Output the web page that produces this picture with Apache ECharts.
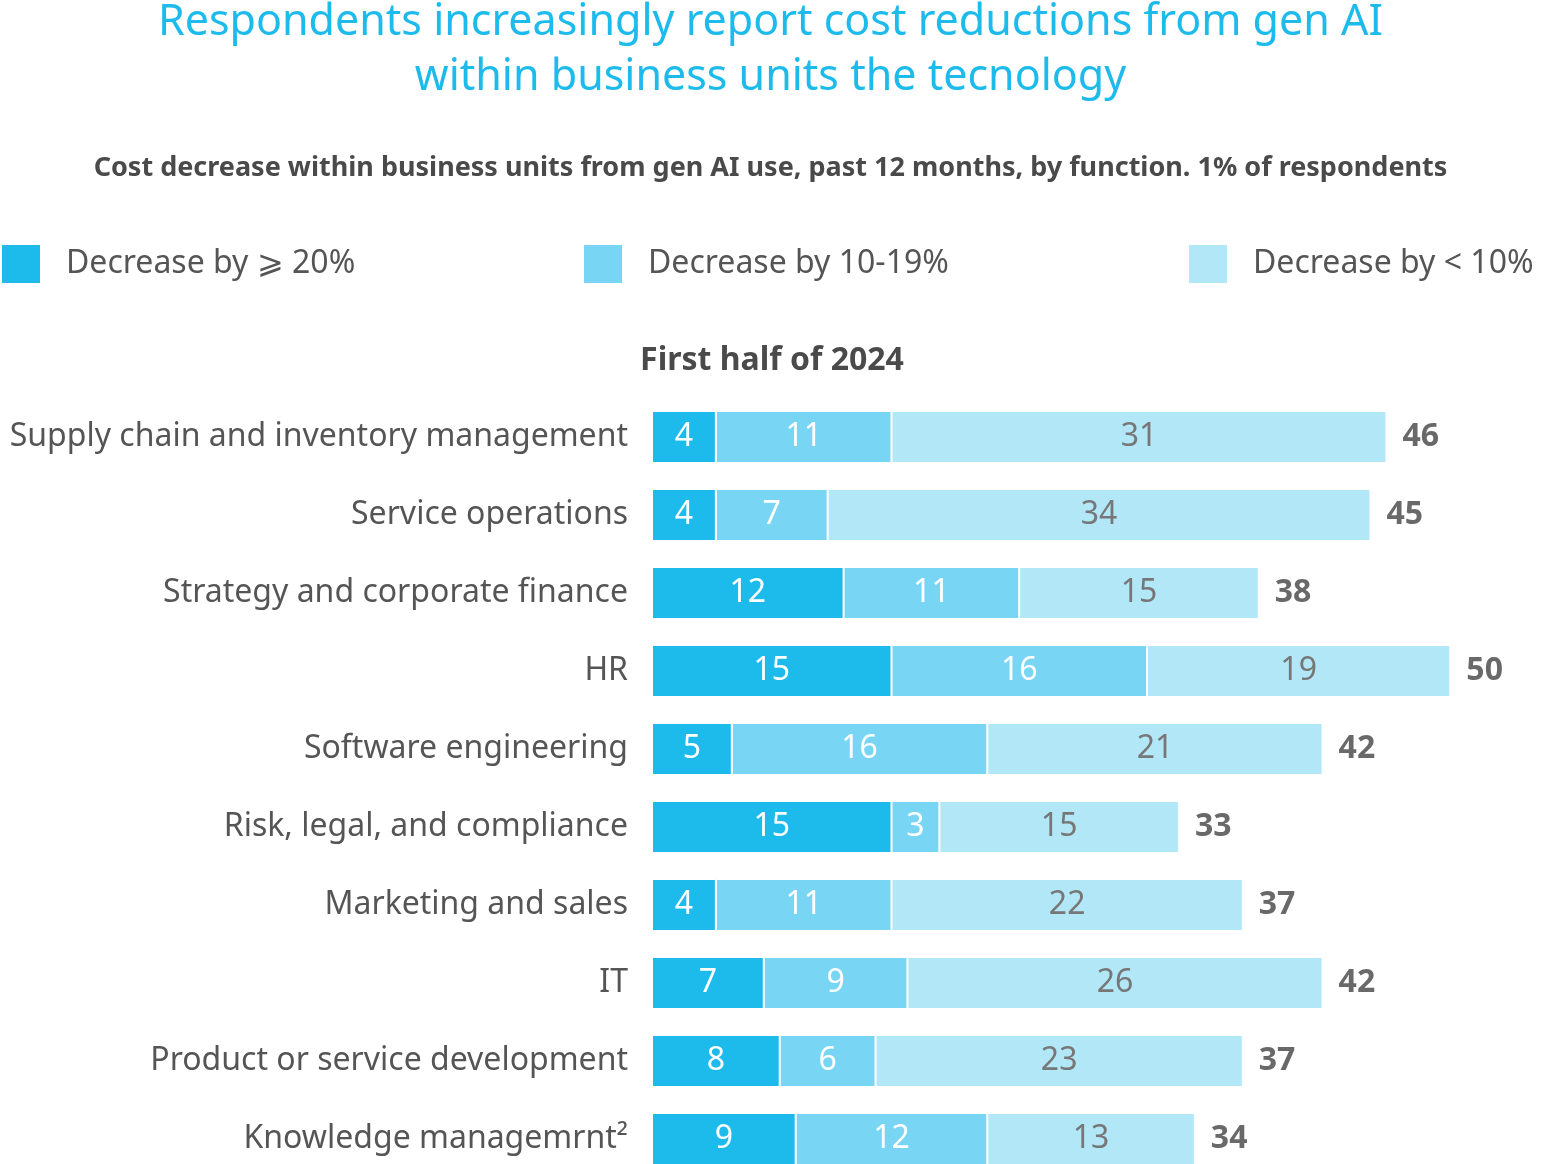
<!DOCTYPE html>
<html>
<head>
<meta charset="utf-8">
<script src="https://cdn.jsdelivr.net/npm/echarts@6/dist/echarts.min.js"></script>
<style>html,body{margin:0;padding:0;background:#fff}#c{width:1541px;height:1164px}</style>
</head>
<body>
<div id="c"></div>
<script>
const categories = ["Supply chain and inventory management","Service operations","Strategy and corporate finance","HR","Software engineering","Risk, legal, and compliance","Marketing and sales","IT","Product or service development","Knowledge managemrnt²"];
const dec20 = [4,4,12,15,5,15,4,7,8,9];
const dec10 = [11,7,11,16,16,3,11,9,6,12];
const decLow = [31,34,15,19,21,15,22,26,23,13];
const totals = [46,45,38,50,42,33,37,42,37,34];
const seriesNames = ["Decrease by ⩾ 20%","Decrease by 10-19%","Decrease by < 10%"];
const colors = ["#1dbbec","#78d5f4","#b2e7f8"];

const FONT = "Noto Sans";
const chart = echarts.init(document.getElementById('c'), null, {renderer:'canvas'});
function legendAt(i, left){
  return {
    data:[seriesNames[i]], left:left, top:243, padding:0, itemWidth:40, itemHeight:40, icon:'rect',
    textStyle:{fontFamily:FONT, fontSize:32, color:'#555', padding:[0,0,0,20]},
    selectedMode:false
  };
}
function barSeries(i, data, labelColor){
  return {
    name:seriesNames[i], type:'bar', stack:'s', data:data, barWidth:52,
    itemStyle:{color:colors[i], borderColor:'#fff', borderWidth:1},
    label:{show:true, position:'inside', color:labelColor, fontFamily:FONT, fontSize:32},
    emphasis:{disabled:true}
  };
}
chart.setOption({
  animation:false,
  title:[
    {text:"Respondents increasingly report cost reductions from gen AI\nwithin business units the tecnology", left:'center', top:-10,
     textStyle:{fontFamily:FONT, fontSize:43, fontWeight:'normal', color:'#1dbbec', lineHeight:55, align:'center'}},
    {text:"Cost decrease within business units from gen AI use, past 12 months, by function. 1% of respondents", left:'center', top:150,
     textStyle:{fontFamily:FONT, fontSize:27, fontWeight:'bold', color:'#4a4a4a'}},
    {text:"First half of 2024", left:767, top:340, textAlign:'center',
     textStyle:{fontFamily:FONT, fontSize:32, fontWeight:'bold', color:'#4a4a4a'}}
  ],
  legend:[legendAt(0,0), legendAt(1,582), legendAt(2,1187)],
  grid:{left:652, top:398, width:958, height:780, containLabel:false, outerBoundsMode:'none'},
  xAxis:{type:'value', min:0, max:60, show:false},
  yAxis:{type:'category', data:categories, inverse:true,
    axisLine:{show:false}, axisTick:{show:false},
    axisLabel:{margin:24, fontFamily:FONT, fontSize:32, color:'#555'}},
  series:[
    barSeries(0, dec20, '#fff'),
    barSeries(1, dec10, '#fff'),
    barSeries(2, decLow, '#777'),
    {type:'scatter', data:totals.map((t,i)=>[t, categories[i]]), symbolSize:0,
     label:{show:true, position:'right', distance:16, formatter:p=>totals[p.dataIndex],
       fontFamily:FONT, fontSize:32, fontWeight:'bold', color:'#444'}, silent:true}
  ]
});
</script>
</body>
</html>
